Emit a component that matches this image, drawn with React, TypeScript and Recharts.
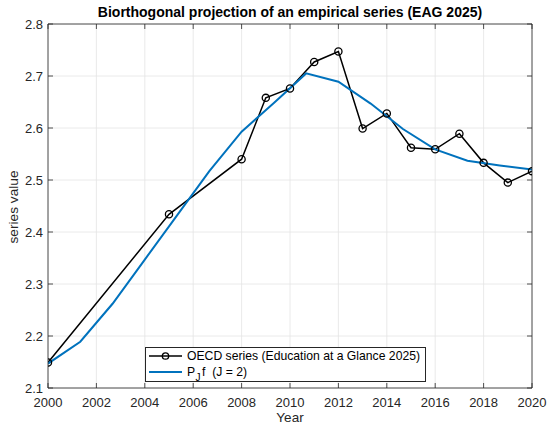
import React from 'react';
import { LineChart, Line, XAxis, YAxis, CartesianGrid } from 'recharts';

const OECD_YEARS = [2000, 2005, 2008, 2009, 2010, 2011, 2012, 2013, 2014, 2015, 2016, 2017, 2018, 2019, 2020];
const OECD_VALUES = [2.149, 2.434, 2.54, 2.658, 2.676, 2.727, 2.747, 2.599, 2.628, 2.562, 2.559, 2.589, 2.533, 2.495, 2.517];

const PROJ_YEARS = [2000, 2001.333, 2002.667, 2004, 2005.333, 2006.667, 2008, 2009.333, 2010.667, 2012, 2013.333, 2014.667, 2016, 2017.333, 2018.667, 2020];
const PROJ_VALUES = [2.147, 2.189, 2.262, 2.347, 2.432, 2.517, 2.593, 2.648, 2.705, 2.689, 2.647, 2.598, 2.559, 2.537, 2.528, 2.52];

const X_TICKS = [2000, 2002, 2004, 2006, 2008, 2010, 2012, 2014, 2016, 2018, 2020];
const Y_TICKS = [2.1, 2.2, 2.3, 2.4, 2.5, 2.6, 2.7, 2.8];

const TITLE = 'Biorthogonal projection of an empirical series (EAG 2025)';
const X_LABEL = 'Year';
const Y_LABEL = 'series value';
const LEGEND_OECD = 'OECD series (Education at a Glance 2025)';

const oecdData = OECD_YEARS.map((year, i) => ({ year, value: OECD_VALUES[i] }));
const projData = PROJ_YEARS.map((year, i) => ({ year, value: PROJ_VALUES[i] }));

const FONT = '"Liberation Sans", Arial, Helvetica, sans-serif';
const AXIS_COLOR = '#262626';
const BLUE = '#0072BD';
const TICK_LEN = 5;

const BottomTick = (props: any) => {
  const { x, y, payload } = props;
  return (
    <g>
      <line x1={x} x2={x} y1={y} y2={y - TICK_LEN} stroke={AXIS_COLOR} strokeWidth={0.8} />
      <text x={x} y={y + 19} textAnchor="middle" fill={AXIS_COLOR} fontSize={13} fontFamily={FONT}>
        {payload.value}
      </text>
    </g>
  );
};

const TopTick = (props: any) => {
  const { x, y } = props;
  return <line x1={x} x2={x} y1={y} y2={y + TICK_LEN} stroke={AXIS_COLOR} strokeWidth={0.8} />;
};

const LeftTick = (props: any) => {
  const { x, y, payload } = props;
  return (
    <g>
      <line x1={x} x2={x + TICK_LEN} y1={y} y2={y} stroke={AXIS_COLOR} strokeWidth={0.8} />
      <text x={x - 5} y={y + 4.6} textAnchor="end" fill={AXIS_COLOR} fontSize={13} fontFamily={FONT}>
        {Number(payload.value).toFixed(1)}
      </text>
    </g>
  );
};

const RightTick = (props: any) => {
  const { x, y } = props;
  return <line x1={x} x2={x - TICK_LEN} y1={y} y2={y} stroke={AXIS_COLOR} strokeWidth={0.8} />;
};

const CircleDot = (props: any) => {
  const { cx, cy, index } = props;
  if (cx == null || cy == null) return <g key={index} />;
  return <circle key={index} cx={cx} cy={cy} r={3.6} fill="none" stroke="#000" strokeWidth={1.3} />;
};

const Legend = () => (
  <div
    style={{
      position: 'absolute',
      left: 145,
      top: 347,
      width: 281,
      height: 35,
      boxSizing: 'border-box',
      border: '1px solid #262626',
      background: '#fff',
    }}
  >
    <svg width={281} height={35} style={{ position: 'absolute', left: -1, top: -1 }}>
      <line x1={4} x2={37} y1={9} y2={9} stroke="#000" strokeWidth={1.5} />
      <circle cx={20.5} cy={9} r={3.2} fill="none" stroke="#000" strokeWidth={1.3} />
      <text x={42} y={13.3} fontSize={12.2} fontFamily={FONT} fill="#000">
        {LEGEND_OECD}
      </text>
      <line x1={4} x2={37} y1={25} y2={25} stroke={BLUE} strokeWidth={2} />
      <text x={42} y={29.3} fontSize={12.2} fontFamily={FONT} fill="#000">
        P
      </text>
      <text x={50.5} y={33.5} fontSize={10} fontFamily={FONT} fill="#000">
        J
      </text>
      <text x={57} y={29.3} fontSize={12.2} fontFamily={FONT} fill="#000" style={{ whiteSpace: 'pre' }}>
        {'f  (J = 2)'}
      </text>
    </svg>
  </div>
);

export default function App() {
  return (
    <div style={{ position: 'absolute', left: 0, top: 0, width: 550, height: 429, background: '#fff' }}>
      <LineChart width={550} height={429} margin={{ top: 0, right: 0, bottom: 0, left: 0 }}>
        <CartesianGrid stroke="#e4e4e4" strokeWidth={0.8} />
        <XAxis
          xAxisId={0}
          type="number"
          dataKey="year"
          domain={[2000, 2020]}
          ticks={X_TICKS}
          allowDataOverflow
          height={41}
          tickSize={0}
          tickMargin={0}
          tickLine={false}
          axisLine={{ stroke: AXIS_COLOR, strokeWidth: 0.8 }}
          tick={<BottomTick />}
          interval={0}
        />
        <XAxis
          xAxisId="top"
          orientation="top"
          type="number"
          dataKey="year"
          domain={[2000, 2020]}
          ticks={X_TICKS}
          allowDataOverflow
          height={24}
          tickSize={0}
          tickMargin={0}
          tickLine={false}
          axisLine={{ stroke: AXIS_COLOR, strokeWidth: 0.8 }}
          tick={<TopTick />}
          interval={0}
        />
        <YAxis
          yAxisId={0}
          type="number"
          domain={[2.1, 2.8]}
          ticks={Y_TICKS}
          allowDataOverflow
          width={48}
          tickSize={0}
          tickMargin={0}
          tickLine={false}
          axisLine={{ stroke: AXIS_COLOR, strokeWidth: 0.8 }}
          tick={<LeftTick />}
          interval={0}
        />
        <YAxis
          yAxisId="right"
          orientation="right"
          type="number"
          domain={[2.1, 2.8]}
          ticks={Y_TICKS}
          allowDataOverflow
          width={18}
          tickSize={0}
          tickMargin={0}
          tickLine={false}
          axisLine={{ stroke: AXIS_COLOR, strokeWidth: 0.8 }}
          tick={<RightTick />}
          interval={0}
        />
        <Line
          data={oecdData}
          dataKey="value"
          type="linear"
          stroke="#000"
          strokeWidth={1.5}
          dot={<CircleDot />}
          activeDot={false}
          isAnimationActive={false}
        />
        <Line
          data={projData}
          dataKey="value"
          type="linear"
          stroke={BLUE}
          strokeWidth={2}
          dot={false}
          activeDot={false}
          isAnimationActive={false}
        />
      </LineChart>
      <svg width={550} height={429} style={{ position: 'absolute', left: 0, top: 0, pointerEvents: 'none' }}>
        <text x={290} y={17} textAnchor="middle" fontSize={14} fontWeight="bold" fontFamily={FONT} fill="#000">
          {TITLE}
        </text>
        <text x={290} y={422} textAnchor="middle" fontSize={13.5} fontFamily={FONT} fill={AXIS_COLOR}>
          {X_LABEL}
        </text>
        <text
          x={17.5}
          y={207}
          textAnchor="middle"
          fontSize={13.7}
          fontFamily={FONT}
          fill={AXIS_COLOR}
          transform="rotate(-90 17.5 207)"
        >
          {Y_LABEL}
        </text>
      </svg>
      <Legend />
    </div>
  );
}
